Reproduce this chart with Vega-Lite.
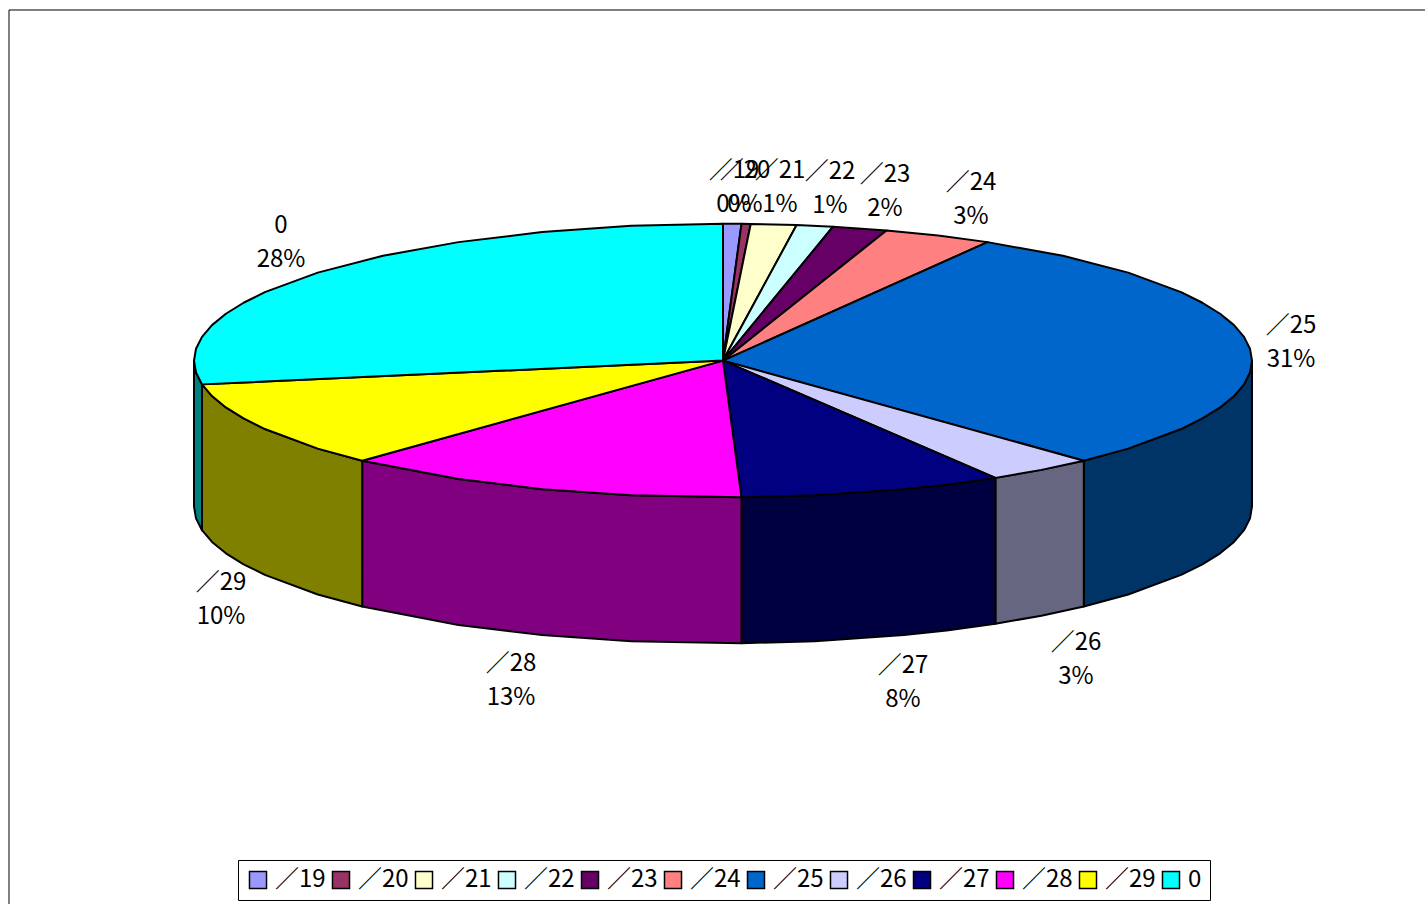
{"$schema":"https://vega.github.io/schema/vega-lite/v6.json","autosize":{"type":"fit","contains":"padding"},"width":1427,"height":906,"padding":0,"background":"white","view":{"stroke":null},"datasets":{"frame":[{"x":702,"y":351,"i":0},{"x":-714,"y":351,"i":1},{"x":-714,"y":-544,"i":2}],"walls":[
{"s":"/25w","i":0,"x":529,"y":0},{"s":"/25w","i":1,"x":527,"y":-11.9},{"s":"/25w","i":2,"x":521,"y":-23.8},{"s":"/25w","i":3,"x":511,"y":-35.5},{"s":"/25w","i":4,"x":497.1,"y":-46.9},{"s":"/25w","i":5,"x":479.4,"y":-57.9},{"s":"/25w","i":6,"x":458.1,"y":-68.5},{"s":"/25w","i":7,"x":405.2,"y":-88.1},{"s":"/25w","i":8,"x":360.8,"y":-100.2},{"s":"/25w","i":9,"x":360.8,"y":-246.2},{"s":"/25w","i":10,"x":405.2,"y":-234.1},{"s":"/25w","i":11,"x":458.1,"y":-214.5},{"s":"/25w","i":12,"x":479.4,"y":-203.9},{"s":"/25w","i":13,"x":497.1,"y":-192.9},{"s":"/25w","i":14,"x":511,"y":-181.5},{"s":"/25w","i":15,"x":521,"y":-169.8},{"s":"/25w","i":16,"x":527,"y":-157.9},{"s":"/25w","i":17,"x":529,"y":-146},{"s":"/25w","i":18,"x":529,"y":0},
{"s":"/26w","i":0,"x":360.8,"y":-100.2},{"s":"/26w","i":1,"x":318.4,"y":-109.4},{"s":"/26w","i":2,"x":272.4,"y":-117.4},{"s":"/26w","i":3,"x":272.4,"y":-263.4},{"s":"/26w","i":4,"x":318.4,"y":-255.4},{"s":"/26w","i":5,"x":360.8,"y":-246.2},{"s":"/26w","i":6,"x":360.8,"y":-100.2},
{"s":"/27w","i":0,"x":272.4,"y":-117.4},{"s":"/27w","i":1,"x":223.6,"y":-124.2},{"s":"/27w","i":2,"x":180.9,"y":-128.7},{"s":"/27w","i":3,"x":91.8,"y":-134.9},{"s":"/27w","i":4,"x":18.5,"y":-136.9},{"s":"/27w","i":5,"x":18.5,"y":-282.9},{"s":"/27w","i":6,"x":91.8,"y":-280.9},{"s":"/27w","i":7,"x":180.9,"y":-274.7},{"s":"/27w","i":8,"x":223.6,"y":-270.2},{"s":"/27w","i":9,"x":272.4,"y":-263.4},{"s":"/27w","i":10,"x":272.4,"y":-117.4},
{"s":"/28w","i":0,"x":18.5,"y":-136.9},{"s":"/28w","i":1,"x":-91.8,"y":-134.9},{"s":"/28w","i":2,"x":-180.9,"y":-128.7},{"s":"/28w","i":3,"x":-264.5,"y":-118.6},{"s":"/28w","i":4,"x":-360.8,"y":-100.2},{"s":"/28w","i":5,"x":-360.8,"y":-246.2},{"s":"/28w","i":6,"x":-264.5,"y":-264.6},{"s":"/28w","i":7,"x":-180.9,"y":-274.7},{"s":"/28w","i":8,"x":-91.8,"y":-280.9},{"s":"/28w","i":9,"x":18.5,"y":-282.9},{"s":"/28w","i":10,"x":18.5,"y":-136.9},
{"s":"/29w","i":0,"x":-360.8,"y":-100.2},{"s":"/29w","i":1,"x":-405.2,"y":-88.1},{"s":"/29w","i":2,"x":-458.1,"y":-68.5},{"s":"/29w","i":3,"x":-479.4,"y":-57.9},{"s":"/29w","i":4,"x":-497.1,"y":-46.9},{"s":"/29w","i":5,"x":-511,"y":-35.5},{"s":"/29w","i":6,"x":-521,"y":-23.8},{"s":"/29w","i":7,"x":-521,"y":-169.8},{"s":"/29w","i":8,"x":-511,"y":-181.5},{"s":"/29w","i":9,"x":-497.1,"y":-192.9},{"s":"/29w","i":10,"x":-479.4,"y":-203.9},{"s":"/29w","i":11,"x":-458.1,"y":-214.5},{"s":"/29w","i":12,"x":-405.2,"y":-234.1},{"s":"/29w","i":13,"x":-360.8,"y":-246.2},{"s":"/29w","i":14,"x":-360.8,"y":-100.2},
{"s":"0w","i":0,"x":-521,"y":-23.8},{"s":"0w","i":1,"x":-527,"y":-11.9},{"s":"0w","i":2,"x":-529,"y":0},{"s":"0w","i":3,"x":-529,"y":-146},{"s":"0w","i":4,"x":-527,"y":-157.9},{"s":"0w","i":5,"x":-521,"y":-169.8},{"s":"0w","i":6,"x":-521,"y":-23.8}
],"tops":[
{"s":"/19","i":0,"x":0,"y":0},{"s":"/19","i":1,"x":0,"y":137},{"s":"/19","i":2,"x":18.5,"y":136.9},{"s":"/19","i":3,"x":0,"y":0},
{"s":"/20","i":0,"x":0,"y":0},{"s":"/20","i":1,"x":18.5,"y":136.9},{"s":"/20","i":2,"x":27.7,"y":136.8},{"s":"/20","i":3,"x":0,"y":0},
{"s":"/21","i":0,"x":0,"y":0},{"s":"/21","i":1,"x":27.7,"y":136.8},{"s":"/21","i":2,"x":73.6,"y":135.7},{"s":"/21","i":3,"x":0,"y":0},
{"s":"/22","i":0,"x":0,"y":0},{"s":"/22","i":1,"x":73.6,"y":135.7},{"s":"/22","i":2,"x":110,"y":134},{"s":"/22","i":3,"x":0,"y":0},
{"s":"/23","i":0,"x":0,"y":0},{"s":"/23","i":1,"x":110,"y":134},{"s":"/23","i":2,"x":163.5,"y":130.3},{"s":"/23","i":3,"x":0,"y":0},
{"s":"/24","i":0,"x":0,"y":0},{"s":"/24","i":1,"x":163.5,"y":130.3},{"s":"/24","i":2,"x":215.2,"y":125.2},{"s":"/24","i":3,"x":264.5,"y":118.6},{"s":"/24","i":4,"x":0,"y":0},
{"s":"/25","i":0,"x":0,"y":0},{"s":"/25","i":1,"x":264.5,"y":118.6},{"s":"/25","i":2,"x":340,"y":104.9},{"s":"/25","i":3,"x":405.2,"y":88.1},{"s":"/25","i":4,"x":458.1,"y":68.5},{"s":"/25","i":5,"x":479.4,"y":57.9},{"s":"/25","i":6,"x":497.1,"y":46.9},{"s":"/25","i":7,"x":511,"y":35.5},{"s":"/25","i":8,"x":521,"y":23.8},{"s":"/25","i":9,"x":527,"y":11.9},{"s":"/25","i":10,"x":529,"y":0},{"s":"/25","i":11,"x":527,"y":-11.9},{"s":"/25","i":12,"x":521,"y":-23.8},{"s":"/25","i":13,"x":511,"y":-35.5},{"s":"/25","i":14,"x":497.1,"y":-46.9},{"s":"/25","i":15,"x":479.4,"y":-57.9},{"s":"/25","i":16,"x":458.1,"y":-68.5},{"s":"/25","i":17,"x":405.2,"y":-88.1},{"s":"/25","i":18,"x":360.8,"y":-100.2},{"s":"/25","i":19,"x":0,"y":0},
{"s":"/26","i":0,"x":0,"y":0},{"s":"/26","i":1,"x":360.8,"y":-100.2},{"s":"/26","i":2,"x":318.4,"y":-109.4},{"s":"/26","i":3,"x":272.4,"y":-117.4},{"s":"/26","i":4,"x":0,"y":0},
{"s":"/27","i":0,"x":0,"y":0},{"s":"/27","i":1,"x":272.4,"y":-117.4},{"s":"/27","i":2,"x":223.6,"y":-124.2},{"s":"/27","i":3,"x":180.9,"y":-128.7},{"s":"/27","i":4,"x":91.8,"y":-134.9},{"s":"/27","i":5,"x":18.5,"y":-136.9},{"s":"/27","i":6,"x":0,"y":0},
{"s":"/28","i":0,"x":0,"y":0},{"s":"/28","i":1,"x":18.5,"y":-136.9},{"s":"/28","i":2,"x":-91.8,"y":-134.9},{"s":"/28","i":3,"x":-180.9,"y":-128.7},{"s":"/28","i":4,"x":-264.5,"y":-118.6},{"s":"/28","i":5,"x":-360.8,"y":-100.2},{"s":"/28","i":6,"x":0,"y":0},
{"s":"/29","i":0,"x":0,"y":0},{"s":"/29","i":1,"x":-360.8,"y":-100.2},{"s":"/29","i":2,"x":-405.2,"y":-88.1},{"s":"/29","i":3,"x":-458.1,"y":-68.5},{"s":"/29","i":4,"x":-479.4,"y":-57.9},{"s":"/29","i":5,"x":-497.1,"y":-46.9},{"s":"/29","i":6,"x":-511,"y":-35.5},{"s":"/29","i":7,"x":-521,"y":-23.8},{"s":"/29","i":8,"x":0,"y":0},
{"s":"0","i":0,"x":0,"y":0},{"s":"0","i":1,"x":-521,"y":-23.8},{"s":"0","i":2,"x":-527,"y":-11.9},{"s":"0","i":3,"x":-529,"y":0},{"s":"0","i":4,"x":-527,"y":11.9},{"s":"0","i":5,"x":-521,"y":23.8},{"s":"0","i":6,"x":-511,"y":35.5},{"s":"0","i":7,"x":-497.1,"y":46.9},{"s":"0","i":8,"x":-479.4,"y":57.9},{"s":"0","i":9,"x":-458.1,"y":68.5},{"s":"0","i":10,"x":-405.2,"y":88.1},{"s":"0","i":11,"x":-340,"y":104.9},{"s":"0","i":12,"x":-264.5,"y":118.6},{"s":"0","i":13,"x":-180.9,"y":128.7},{"s":"0","i":14,"x":-91.8,"y":134.9},{"s":"0","i":15,"x":0,"y":137},{"s":"0","i":16,"x":0,"y":0}
],"labels":[
{"t":"／19\n0%","x":11,"y":189.5},{"t":"／20\n0%","x":22,"y":189.5},{"t":"／21\n1%","x":57,"y":189.5},{"t":"／22\n1%","x":107,"y":188.5},{"t":"／23\n2%","x":162,"y":186},{"t":"／24\n3%","x":248,"y":178},{"t":"／25\n31%","x":568,"y":35},{"t":"／26\n3%","x":353,"y":-283},{"t":"／27\n8%","x":180,"y":-306},{"t":"／28\n13%","x":-212,"y":-304},{"t":"／29\n10%","x":-502,"y":-223},{"t":"0\n28%","x":-442,"y":135}
]},
"encoding":{"x":{"field":"x","type":"quantitative","scale":{"domain":[-723,704],"nice":false,"zero":false},"axis":null},"y":{"field":"y","type":"quantitative","scale":{"domain":[-545,361],"nice":false,"zero":false},"axis":null}},
"layer":[
{"data":{"name":"frame"},"mark":{"type":"line","stroke":"black","strokeWidth":1},"encoding":{"order":{"field":"i","type":"quantitative"}}},
{"data":{"name":"walls"},"mark":{"type":"line","filled":true,"stroke":"black","strokeWidth":2,"strokeJoin":"round"},"encoding":{"order":{"field":"i","type":"quantitative"},"color":{"field":"s","type":"nominal","legend":null,"scale":{"domain":["/25w","/26w","/27w","/28w","/29w","0w"],"range":["#003366","#666680","#000040","#800080","#808000","#008080"]}}}},
{"data":{"name":"tops"},"mark":{"type":"line","filled":true,"stroke":"black","strokeWidth":2,"strokeJoin":"round"},"encoding":{"order":{"field":"i","type":"quantitative"},"color":{"field":"s","type":"nominal","scale":{"domain":["/19","/20","/21","/22","/23","/24","/25","/26","/27","/28","/29","0"],"range":["#9999FF","#993366","#FFFFCC","#CCFFFF","#660066","#FF8080","#0066CC","#CCCCFF","#000080","#FF00FF","#FFFF00","#00FFFF"]},"legend":{"title":null,"orient":"none","legendX":238,"legendY":860,"direction":"horizontal","columns":12,"symbolType":"square","symbolSize":290,"symbolStrokeColor":"black","symbolStrokeWidth":1.5,"labelFont":"Noto Sans CJK JP","labelFontSize":24,"labelColor":"black","labelExpr":"replace(datum.label,'/','／')","strokeColor":"black","fillColor":"white","padding":8,"columnPadding":3,"labelOffset":5,"labelLimit":100}}}},
{"data":{"name":"labels"},"mark":{"type":"text","font":"Noto Sans CJK JP","fontSize":24,"lineBreak":"\n","lineHeight":34,"baseline":"middle","align":"center","color":"black"},"encoding":{"text":{"field":"t"}}}
],
"resolve":{"scale":{"color":"independent"}}}
